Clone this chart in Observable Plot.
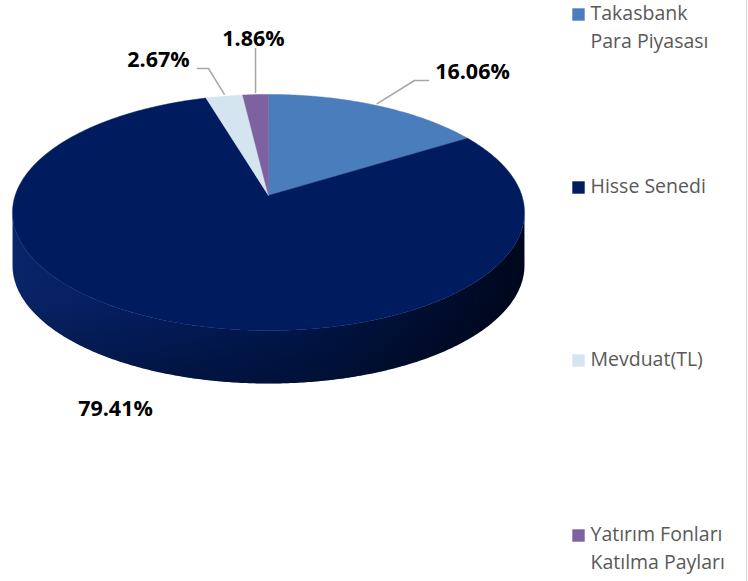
<!DOCTYPE html>
<html><head><meta charset="utf-8">
<script src="https://cdn.jsdelivr.net/npm/d3@7"></script>
<script src="https://cdn.jsdelivr.net/npm/@observablehq/plot@0.6"></script>
<style>body{margin:0;background:#fff;} svg{display:block;}</style>
</head><body><div id="chart"></div>
<script>
// ---- data ----
const categories = ["Takasbank Para Piyasası", "Hisse Senedi", "Mevduat(TL)", "Yatırım Fonları Katılma Payları"];
const legendLines = [["Takasbank", "Para Piyasası"], ["Hisse Senedi"], ["Mevduat(TL)"], ["Yatırım Fonları", "Katılma Payları"]];
const values = [16.06, 79.41, 2.67, 1.86];
const labels = ["16.06%", "79.41%", "2.67%", "1.86%"];
const colors = ["#4a7dbb", "#001c5e", "#d4e5f0", "#7d61a0"];

// ---- layout (positions / styles) ----
const W = 748, H = 581;
const P = {cx: 268, cy: 195, A: 253.3, B: 115.6, k: 0.144, depth: 53};
const labelPos = [[472, 72], [115, 409], [158, 60], [253, 39]];
const leaderElbows = [[[414, 80], [428, 80]], null, [[208, 68], [197, 68]], [[255, 48]]];
const legendX = 578, legendTextX = 590, legendY = [14, 187, 360, 535], legendLH = 28.5;

function proj(t, dz = 0) {
  const u = Math.sin(t), v = -Math.cos(t), d = 1 - P.k * v;
  return [P.cx + P.A * u / d, P.cy + P.B * v / d + dz];
}
function arcPts(t0, t1, dz = 0, step = Math.PI / 360) {
  const n = Math.max(2, Math.ceil(Math.abs(t1 - t0) / step));
  return d3.range(n + 1).map(i => proj(t0 + (t1 - t0) * i / n, dz));
}

const pieArcs = d3.pie().sort(null).value(d => d)(values);

// top faces
const topFaces = [];
pieArcs.forEach((a, i) => {
  topFaces.push({key: i, x: P.cx, y: P.cy, fill: colors[i]});
  arcPts(a.startAngle, a.endAngle).forEach(([x, y]) => topFaces.push({key: i, x, y, fill: colors[i]}));
});

// front side (visible part of the cylinder wall)
const tL = Math.acos(-P.k), tR = 2 * Math.PI - Math.acos(-P.k);
const sidePts = arcPts(tL, tR).concat(arcPts(tR, tL, P.depth)).map(([x, y]) => ({x, y}));
const rimFront = arcPts(tL + 0.1, tR - 0.1, 2).map(([x, y]) => ({x, y}));
const shadowPts = arcPts(0, 2 * Math.PI, P.depth + 5).map(([x, y]) => ({x: x + 4, y}));

// leader lines
const leaders = [];
pieArcs.forEach((a, i) => {
  if (!leaderElbows[i]) return;
  const [x0, y0] = proj((a.startAngle + a.endAngle) / 2);
  leaders.push({key: i, x: x0, y: y0 - 2});
  leaderElbows[i].forEach(([x, y]) => leaders.push({key: i, x, y}));
});

const labelData = labels.map((t, i) => ({t, x: labelPos[i][0], y: labelPos[i][1]}));
const legendMarks = categories.map((c, i) => ({c, x: legendX, y: legendY[i], fill: colors[i]}));
const legendText = legendLines.flatMap((lines, i) => lines.map((t, j) => ({t, x: legendTextX, y: legendY[i] - 1 + j * legendLH})));

const chart = Plot.plot({
  width: W, height: H, margin: 0,
  x: {domain: [0, W], range: [0, W], axis: null},
  y: {domain: [0, H], range: [0, H], axis: null},
  color: {type: "identity"},
  marks: [
    Plot.line(shadowPts, {x: "x", y: "y", curve: "linear-closed", fill: "#b8b8b8", stroke: "none", ariaLabel: "shadow"}),
    Plot.line(sidePts, {x: "x", y: "y", curve: "linear-closed", fill: "url(#sideGrad)", stroke: "none"}),
    Plot.line(sidePts, {x: "x", y: "y", curve: "linear-closed", fill: "url(#sideShade)", stroke: "none"}),
    Plot.line(topFaces, {x: "x", y: "y", z: "key", curve: "linear-closed", fill: "fill", stroke: "fill", strokeWidth: 0.5}),
    Plot.line(rimFront, {x: "x", y: "y", stroke: "#3558b0", strokeOpacity: 0.35, strokeWidth: 2.5, ariaLabel: "rim"}),
    Plot.line(leaders, {x: "x", y: "y", z: "key", stroke: "#a6a6a6", strokeWidth: 1.5}),
    Plot.text(labelData, {x: "x", y: "y", text: "t", fontSize: 21.5, fontWeight: "bold", fill: "#000", textAnchor: "middle", fontFamily: "Open Sans"}),
    Plot.dot(legendMarks, {x: "x", y: "y", symbol: "square", r: 7, fill: "fill", stroke: "none"}),
    Plot.text(legendText, {x: "x", y: "y", text: "t", fontSize: 19.5, fill: "#595959", textAnchor: "start", fontFamily: "Open Sans"}),
    Plot.ruleX([746], {stroke: "#d9d9d9", strokeWidth: 1})
  ]
});

const svg = d3.select(chart);
const defs = svg.insert("defs", ":first-child");
const g1 = defs.append("linearGradient").attr("id", "sideGrad").attr("x1", 0).attr("x2", 1).attr("y1", 0).attr("y2", 0);
[[0, "#0a256c"], [0.25, "#031f66"], [0.55, "#001a56"], [0.8, "#000f36"], [1, "#00071c"]].forEach(([o, c]) => g1.append("stop").attr("offset", o).attr("stop-color", c));
const g2 = defs.append("linearGradient").attr("id", "sideShade").attr("x1", 0).attr("x2", 0).attr("y1", 0).attr("y2", 1);
[[0, "#000", 0], [0.5, "#000", 0.05], [1, "#000", 0.35]].forEach(([o, c, a]) => g2.append("stop").attr("offset", o).attr("stop-color", c).attr("stop-opacity", a));
defs.append("filter").attr("id", "blur").attr("x", "-10%").attr("y", "-10%").attr("width", "120%").attr("height", "120%")
  .append("feGaussianBlur").attr("stdDeviation", 4);
defs.append("filter").attr("id", "soft").attr("x", "-5%").attr("y", "-20%").attr("width", "110%").attr("height", "140%")
  .append("feGaussianBlur").attr("stdDeviation", 1.2);
svg.select('g[aria-label="shadow"]').attr("filter", "url(#blur)").attr("opacity", 0.7);
svg.select('g[aria-label="rim"]').attr("filter", "url(#soft)");

document.getElementById("chart").appendChild(chart);
</script>
</body></html>
